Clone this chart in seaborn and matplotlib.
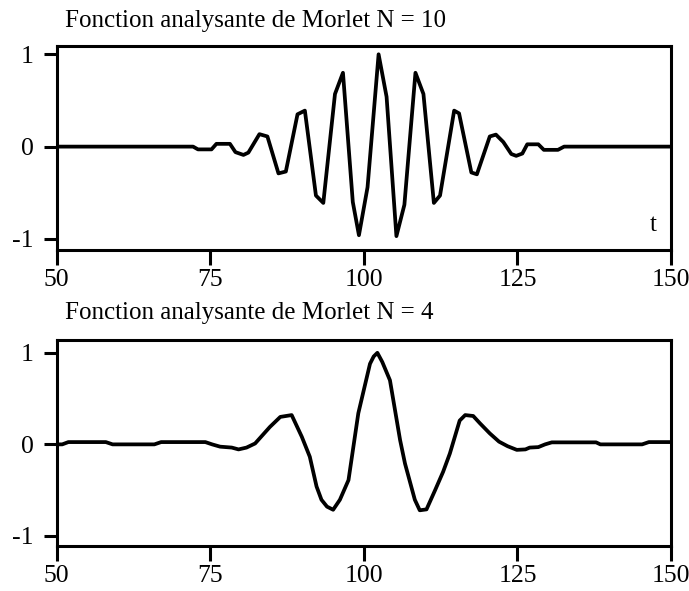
import matplotlib
matplotlib.use("Agg")
import matplotlib.pyplot as plt
import seaborn as sns
import pandas as pd

# ---- data ----
t_top = [50.0, 72.2, 73.0, 75.2, 76.0, 78.2, 79.1, 80.4, 81.2, 83.0, 84.3, 86.1, 87.3,
         89.2, 90.4, 92.2, 93.4, 95.3, 96.6, 98.2, 99.2, 100.6, 102.4, 103.7, 105.3,
         106.6, 108.4, 109.7, 111.4, 112.4, 114.7, 115.5, 117.5, 118.4, 120.5, 121.5,
         122.7, 124.0, 124.8, 125.8, 126.6, 128.4, 129.3, 131.6, 132.6, 150.0]
y_top = [0.0, 0.0, -0.03, -0.03, 0.03, 0.03, -0.06, -0.09, -0.065, 0.135, 0.11, -0.29, -0.27,
         0.35, 0.39, -0.53, -0.61, 0.57, 0.80, -0.60, -0.96, -0.44, 1.0, 0.54, -0.97,
         -0.63, 0.80, 0.57, -0.61, -0.53, 0.39, 0.36, -0.28, -0.30, 0.11, 0.13,
         0.05, -0.08, -0.10, -0.075, 0.025, 0.025, -0.035, -0.035, 0.0, 0.0]

t_bot = [50.0, 50.9, 51.9, 58.0, 59.1, 65.9, 67.0, 74.2, 75.3, 76.6, 78.5, 79.6, 80.9,
         82.3, 84.7, 86.4, 88.25, 89.9, 91.2, 92.3, 93.1, 94.0, 95.0, 96.1, 97.5, 99.1,
         101.0, 101.6, 102.2, 103.0, 104.25, 105.9, 106.7, 108.3, 109.1, 110.2, 111.6,
         112.9, 114.0, 115.6, 116.5, 117.8, 118.9,
         120.5, 122.0, 123.4, 124.9, 126.3, 127.0, 128.4, 129.5, 130.6, 137.8, 138.5,
         145.3, 146.4, 150.0]
y_bot = [0.0, 0.0, 0.025, 0.025, 0.0, 0.0, 0.025, 0.025, 0.0, -0.025, -0.035, -0.055, -0.035,
         0.01, 0.19, 0.30, 0.32, 0.083, -0.135, -0.46, -0.605, -0.68, -0.714, -0.605, -0.39, 0.34,
         0.88, 0.96, 1.0, 0.90, 0.70, 0.047, -0.21, -0.605, -0.72, -0.71, -0.50,
         -0.30, -0.10, 0.26, 0.32, 0.31, 0.23,
         0.12, 0.03, -0.02, -0.06, -0.055, -0.035, -0.03, 0.0, 0.022, 0.022, 0.0,
         0.0, 0.025, 0.025]

titles = ["Fonction analysante de Morlet N = 10", "Fonction analysante de Morlet N = 4"]
x_ticks = [50, 75, 100, 125, 150]
y_ticks = [-1, 0, 1]
x_label_top = "t"

# ---- style ----
sns.set_theme(style="white")
plt.rcParams["font.family"] = ["Liberation Serif", "DejaVu Serif"]
plt.rcParams["axes.unicode_minus"] = False

W, H = 689, 591
fig = plt.figure(figsize=(W / 100, H / 100), dpi=100)

def ax_rect(left, top, right, bottom):
    return [left / W, 1 - bottom / H, (right - left) / W, (bottom - top) / H]

ax1 = fig.add_axes(ax_rect(56.7, 46, 671, 250))
ax2 = fig.add_axes(ax_rect(56.7, 340, 671, 546))

df_top = pd.DataFrame({"t": t_top, "v": y_top})
df_bot = pd.DataFrame({"t": t_bot, "v": y_bot})

for ax, df, ylim in [(ax1, df_top, (-1.12, 1.09)), (ax2, df_bot, (-1.11, 1.14))]:
    sns.lineplot(data=df, x="t", y="v", ax=ax, color="black", linewidth=2.7,
                 sort=False, estimator=None)
    ax.lines[-1].set_solid_joinstyle("round")
    ax.set_xlim(50, 150)
    ax.set_ylim(*ylim)
    ax.set_xticks(x_ticks)
    ax.set_yticks(y_ticks)
    ax.set_xticklabels([str(v) for v in x_ticks])
    ax.set_yticklabels([str(v) for v in y_ticks])
    ax.set_xlabel("")
    ax.set_ylabel("")
    for s in ax.spines.values():
        s.set_color("black")
        s.set_linewidth(2.2)
        s.set_visible(True)
    ax.tick_params(axis="x", bottom=True, direction="out", length=11, width=2.2,
                   color="black", labelsize=18.5, pad=3, labelcolor="black")
    ax.tick_params(axis="y", left=True, direction="out", length=9.5, width=2.2,
                   color="black", labelsize=18.5, pad=7, labelcolor="black")
    ax.grid(False)

fig.text(65 / W, 1 - 27 / H, titles[0], fontsize=18, color="black", ha="left", va="baseline")
fig.text(65 / W, 1 - 319 / H, titles[1], fontsize=18, color="black", ha="left", va="baseline")
fig.text(653.5 / W, 1 - 231 / H, x_label_top, fontsize=18, color="black", ha="center", va="baseline")

fig.savefig("out.png", dpi=100, facecolor="white")
